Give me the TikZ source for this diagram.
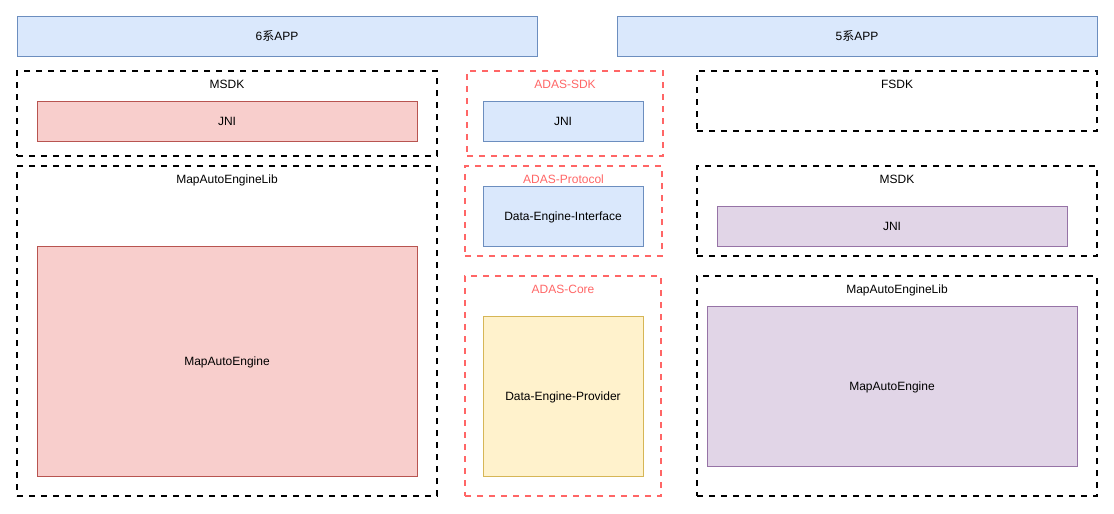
\documentclass[tikz,border=0pt]{standalone}
\usepackage{fontspec}
\setmainfont{Liberation Sans}
\newfontfamily\cjk{Noto Sans CJK SC}
\definecolor{blueF}{HTML}{DAE8FC}
\definecolor{blueD}{HTML}{6C8EBF}
\definecolor{redF}{HTML}{F8CECC}
\definecolor{redD}{HTML}{B85450}
\definecolor{yellowF}{HTML}{FFF2CC}
\definecolor{yellowD}{HTML}{D6B656}
\definecolor{purpleF}{HTML}{E1D5E7}
\definecolor{purpleD}{HTML}{9673A6}
\definecolor{adasRed}{HTML}{FF6666}
\tikzset{
	box/.style = {draw, line width = 1pt, inner sep = 0pt, text height = 8.6pt, text depth = 0pt},
	group/.style = {draw, line width = 2pt, dash pattern = on 6pt off 6pt, inner sep = 0pt},
	tag/.style = {inner sep = 0pt, text height = 8.6pt, text depth = 0pt}
}
\begin{document}
\begin{tikzpicture}[x = 1pt, y = -1pt, font = \fontsize{12}{14}\selectfont]
			\useasboundingbox (0, 0) rectangle (1114, 514);
			\node[box, fill = blueF, draw = blueD, minimum width = 520pt, minimum height = 40pt] (appSix) at (277, 36) {6{\cjk 系}APP};
			\node[box, fill = blueF, draw = blueD, minimum width = 480pt, minimum height = 40pt] (appFive) at (857, 36) {5{\cjk 系}APP};
			% left column
			\node[group, minimum width = 420pt, minimum height = 85pt] (msdkL) at (227, 113.5) {};
			\node[tag] (msdkLtag) at ([yshift = -14pt]msdkL.north) {MSDK};
			\node[box, fill = redF, draw = redD, minimum width = 380pt, minimum height = 40pt] (jniL) at (227, 121) {JNI};
			\node[group, minimum width = 420pt, minimum height = 330pt] (libL) at (227, 331) {};
			\node[tag] (libLtag) at ([yshift = -14pt]libL.north) {MapAutoEngineLib};
			\node[box, fill = redF, draw = redD, minimum width = 380pt, minimum height = 230pt] (engL) at (227, 361) {MapAutoEngine};
			% middle column
			\node[group, draw = adasRed, minimum width = 196pt, minimum height = 85pt] (adasSdk) at (565, 113.5) {};
			\node[tag, text = adasRed] (adasSdkTag) at ([yshift = -14pt]adasSdk.north) {ADAS-SDK};
			\node[box, fill = blueF, draw = blueD, minimum width = 160pt, minimum height = 40pt] (jniM) at (563, 121) {JNI};
			\node[group, draw = adasRed, minimum width = 197pt, minimum height = 90pt] (adasProto) at (563.5, 211) {};
			\node[tag, text = adasRed] (adasProtoTag) at ([yshift = -14pt]adasProto.north) {ADAS-Protocol};
			\node[box, fill = blueF, draw = blueD, minimum width = 160pt, minimum height = 60pt] (dei) at (563, 216) {Data-Engine-Interface};
			\node[group, draw = adasRed, minimum width = 196pt, minimum height = 220pt] (adasCore) at (563, 386) {};
			\node[tag, text = adasRed] (adasCoreTag) at ([yshift = -14pt]adasCore.north) {ADAS-Core};
			\node[box, fill = yellowF, draw = yellowD, minimum width = 160pt, minimum height = 160pt] (dep) at (563, 396) {Data-Engine-Provider};
			% right column
			\node[group, minimum width = 400pt, minimum height = 60pt] (fsdk) at (897, 101) {};
			\node[tag] (fsdkTag) at ([yshift = -14pt]fsdk.north) {FSDK};
			\node[group, minimum width = 400pt, minimum height = 90pt] (msdkR) at (897, 211) {};
			\node[tag] (msdkRtag) at ([yshift = -14pt]msdkR.north) {MSDK};
			\node[box, fill = purpleF, draw = purpleD, minimum width = 350pt, minimum height = 40pt] (jniR) at (892, 226) {JNI};
			\node[group, minimum width = 400pt, minimum height = 220pt] (libR) at (897, 386) {};
			\node[tag] (libRtag) at ([yshift = -14pt]libR.north) {MapAutoEngineLib};
			\node[box, fill = purpleF, draw = purpleD, minimum width = 370pt, minimum height = 160pt] (engR) at (892, 386) {MapAutoEngine};
\end{tikzpicture}
\end{document}
